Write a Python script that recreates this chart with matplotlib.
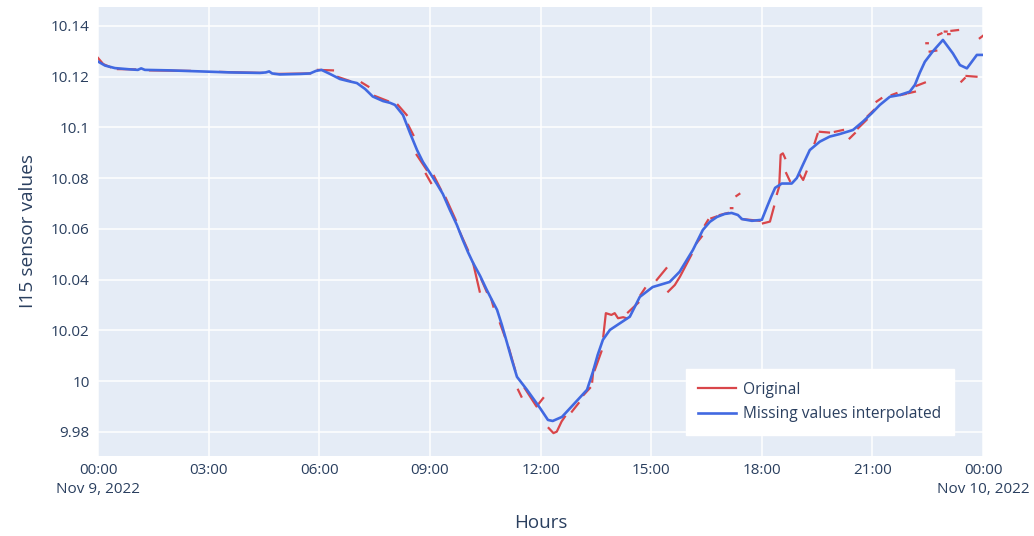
import numpy as np
import matplotlib.pyplot as plt

nan = np.nan

# Interpolated series (hours since midnight, Nov 9 2022)
interp_hours = [0.00, 0.19, 0.46, 0.87, 1.08, 1.17, 1.27, 1.95, 2.77, 3.58, 4.39, 4.55, 4.64, 4.72,
                4.93, 5.48, 5.75, 5.91, 6.06, 6.29, 6.56, 6.78, 7.02, 7.24, 7.45, 7.73, 7.92, 8.05,
                8.27, 8.46, 8.65, 8.81, 9.00, 9.19, 9.35, 9.54, 9.73, 9.89, 10.03, 10.17, 10.36,
                10.54, 10.68, 10.82, 10.95, 11.09, 11.22, 11.36, 11.63, 11.98, 12.20, 12.33, 12.58,
                12.88, 13.26, 13.42, 13.55, 13.69, 13.88, 14.15, 14.42, 14.69, 15.04, 15.50, 15.77,
                16.13, 16.40, 16.59, 16.78, 16.99, 17.18, 17.35, 17.46, 17.73, 18.00, 18.14, 18.25,
                18.36, 18.54, 18.81, 18.95, 19.11, 19.30, 19.57, 19.84, 20.11, 20.47, 20.74, 20.98,
                21.20, 21.47, 21.74, 22.01, 22.15, 22.28, 22.42, 22.63, 22.91, 23.18, 23.37, 23.56,
                23.83, 24.00]
interp_values = [10.1260, 10.1244, 10.1234, 10.1229, 10.1227, 10.1233, 10.1227, 10.1225, 10.1221,
                 10.1217, 10.1215, 10.1217, 10.1221, 10.1213, 10.1209, 10.1211, 10.1213, 10.1223,
                 10.1227, 10.1211, 10.1191, 10.1183, 10.1175, 10.1152, 10.1122, 10.1104, 10.1097,
                 10.1089, 10.1049, 10.0978, 10.0911, 10.0864, 10.0821, 10.0777, 10.0738, 10.0675,
                 10.0616, 10.0557, 10.0509, 10.0466, 10.0415, 10.0360, 10.0320, 10.0281, 10.0222,
                 10.0151, 10.0084, 10.0017, 9.9966, 9.9895, 9.9847, 9.9843, 9.9859, 9.9906, 9.9966,
                 10.0037, 10.0104, 10.0163, 10.0202, 10.0228, 10.0254, 10.0332, 10.0371, 10.0391,
                 10.0431, 10.0517, 10.0596, 10.0628, 10.0647, 10.0659, 10.0663, 10.0655, 10.0639,
                 10.0632, 10.0636, 10.0687, 10.0726, 10.0762, 10.0779, 10.0779, 10.0801, 10.0852,
                 10.0911, 10.0944, 10.0964, 10.0974, 10.0990, 10.1023, 10.1056, 10.1089, 10.1121,
                 10.1128, 10.1141, 10.1168, 10.1215, 10.1259, 10.1299, 10.1345, 10.1292, 10.1246,
                 10.1233, 10.1286, 10.1286]

# Original series, nan marks missing readings
orig_hours = [0.00, 0.14, 0.33, nan, 0.54, 1.00, nan, 1.41, 2.49, nan, 3.31, 4.45, nan, 4.80, 5.75, nan,
              5.96, 6.37, nan, 6.51, 6.83, nan, 7.15, 7.33, nan, 7.51, 7.86, nan, 8.13, 8.37, nan,
              8.41, 8.55, nan, 8.64, 8.91, nan, 8.89, 9.03, nan, 9.11, 9.30, nan, 9.43, 9.70, nan,
              9.81, 10.03, nan, 10.17, 10.35, nan, 10.40, 10.54, nan, 10.67, 10.72, nan, 10.90, 11.03, nan,
              11.14, 11.31, nan, 11.39, 11.48, nan, 11.57, 11.89, 12.07, nan,
              12.22, 12.35, 12.44, 12.57, 12.66, nan, 12.85, 13.03, nan, 13.17, 13.34, nan,
              13.40, 13.43, nan, 13.47, 13.65, nan,
              13.70, 13.77, 13.92, 14.01, 14.10, 14.24, 14.33, nan, 14.37, 14.65, nan, 14.71, 14.83, nan,
              15.15, 15.41, nan, 15.46, 15.64, 15.78, 16.09, nan, 16.23, 16.37, nan, 16.46, 16.54, nan,
              16.63, 16.77, nan, 16.86, 17.08, nan, 17.16, 17.20, nan, 17.31, 17.39, nan, 17.46, 17.94, nan,
              18.03, 18.22, 18.33, nan, 18.41, 18.47, 18.51, 18.57, 18.63, nan, 18.66, 18.76, nan,
              19.03, 19.12, 19.21, nan, 19.43, 19.51, nan, 19.57, 19.82, nan, 19.98, 20.20, nan,
              20.38, 20.52, nan, 20.61, 20.84, nan, 20.87, 21.04, nan, 21.11, 21.24, nan, 21.52, 21.65, nan,
              21.77, 21.90, nan, 21.97, 22.15, nan, 22.19, 22.42, nan, 22.46, 22.50, nan, 22.55, 22.73, nan,
              22.78, 22.87, nan, 22.96, 23.01, nan, 23.05, 23.09, nan, 23.14, 23.32, nan,
              23.41, 23.50, nan, 23.55, 23.82, nan, 23.91, 24.00]
orig_values = [10.1274, 10.1250, 10.1238, nan, 10.1230, 10.1229, nan, 10.1225, 10.1223, nan,
               10.1219, 10.1215, nan, 10.1211, 10.1213, nan, 10.1227, 10.1225, nan, 10.1199, 10.1183, nan,
               10.1177, 10.1161, nan, 10.1124, 10.1104, nan, 10.1089, 10.1049, nan, 10.1010, 10.0970, nan,
               10.0892, 10.0833, nan, 10.0817, 10.0781, nan, 10.0809, 10.0754, nan, 10.0722, 10.0635, nan,
               10.0588, 10.0517, nan, 10.0466, 10.0353, nan, 10.0399, 10.0352, nan, 10.0320, 10.0294, nan,
               10.0228, 10.0176, nan, 10.0131, 10.0044, nan, 9.9966, 9.9939, nan, 9.9972, 9.9900, 9.9933, nan,
               9.9815, 9.9795, 9.9801, 9.9841, 9.9860, nan, 9.9880, 9.9913, nan, 9.9946, 9.9973, nan,
               9.9998, 10.0044, nan, 10.0044, 10.0117, nan,
               10.0176, 10.0268, 10.0261, 10.0268, 10.0248, 10.0252, 10.0248, nan, 10.0271, 10.0309, nan,
               10.0340, 10.0366, nan, 10.0399, 10.0445, nan, 10.0353, 10.0379, 10.0412, 10.0498, nan,
               10.0544, 10.0570, nan, 10.0616, 10.0635, nan, 10.0642, 10.0649, nan, 10.0655, 10.0663, nan,
               10.0682, 10.0682, nan, 10.0730, 10.0738, nan, 10.0639, 10.0632, nan,
               10.0622, 10.0629, 10.0688, nan, 10.0738, 10.0767, 10.0892, 10.0898, 10.0879, nan,
               10.0820, 10.0789, nan, 10.0813, 10.0793, 10.0826, nan, 10.0938, 10.0974, nan,
               10.0983, 10.0980, nan, 10.0983, 10.0990, nan, 10.0957, 10.0977, nan, 10.0997, 10.1030, nan,
               10.1045, 10.1069, nan, 10.1102, 10.1115, nan, 10.1128, 10.1135, nan, 10.1128, 10.1132, nan,
               10.1135, 10.1141, nan, 10.1164, 10.1177, nan, 10.1332, 10.1332, nan, 10.1299, 10.1303, nan,
               10.1365, 10.1371, nan, 10.1378, 10.1378, nan, 10.1368, 10.1368, nan, 10.1381, 10.1384, nan,
               10.1181, 10.1194, nan, 10.1203, 10.1200, nan, 10.1352, 10.1362]

tick_hours = [0, 3, 6, 9, 12, 15, 18, 21, 24]
tick_labels = ['00:00\nNov 9, 2022', '03:00', '06:00', '09:00', '12:00', '15:00', '18:00', '21:00',
               '00:00\nNov 10, 2022']
y_ticks = [9.98, 10.0, 10.02, 10.04, 10.06, 10.08, 10.1, 10.12, 10.14]

plt.rcParams['font.family'] = ['Open Sans', 'DejaVu Sans']
text_color = '#2a3f5f'

fig = plt.figure(figsize=(10.34, 5.36), dpi=100)
ax = fig.add_axes([0.0948, 0.1493, 0.856, 0.8377])
ax.set_facecolor('#E5ECF6')

ax.plot(orig_hours, orig_values, color='#D9464A', linewidth=1.6, label='Original', zorder=3)
ax.plot(interp_hours, interp_values, color='#4169E1', linewidth=1.9,
        label='Missing values interpolated', zorder=4)

ax.set_xlim(0, 24)
ax.set_ylim(9.9705, 10.1475)
ax.set_xticks(tick_hours)
ax.set_xticklabels(tick_labels, linespacing=1.4, va='top')
ax.set_yticks(y_ticks)
ax.set_yticklabels([('%.2f' % v).rstrip('0').rstrip('.') for v in y_ticks])

ax.grid(color='white', linewidth=1.1)
ax.set_axisbelow(True)
for s in ax.spines.values():
    s.set_visible(False)
ax.tick_params(length=0, labelsize=11, labelcolor=text_color)
ax.tick_params(axis='x', pad=5)
ax.tick_params(axis='y', pad=6)

ax.set_xlabel('Hours', fontsize=13.5, color=text_color, labelpad=12)
ax.set_ylabel('I15 sensor values', fontsize=13.8, color=text_color, labelpad=10)

leg = ax.legend(loc='lower left', bbox_to_anchor=(0.664, 0.047), fontsize=11.2, frameon=True,
                fancybox=False, handlelength=2.4, borderpad=0.8, labelspacing=0.55,
                handletextpad=0.5, borderaxespad=0)
leg.get_frame().set_facecolor('white')
leg.get_frame().set_edgecolor('white')
leg.get_frame().set_alpha(1)
for t in leg.get_texts():
    t.set_color(text_color)

fig.savefig('out.png', dpi=100)
